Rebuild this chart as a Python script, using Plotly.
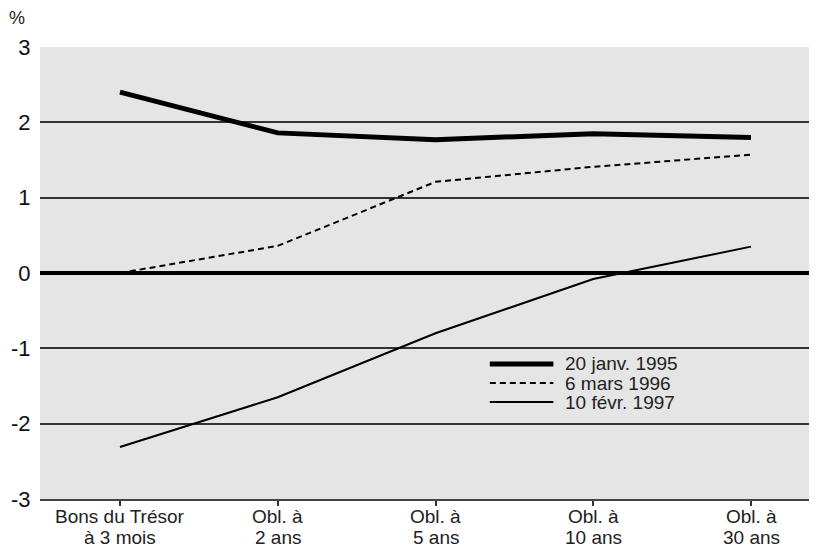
import plotly.graph_objects as go

cat_line1 = ["Bons du Trésor", "Obl. à", "Obl. à", "Obl. à", "Obl. à"]
cat_line2 = ["à 3 mois", "2 ans", "5 ans", "10 ans", "30 ans"]
s1995 = [2.40, 1.86, 1.77, 1.85, 1.80]
s1996 = [0.00, 0.36, 1.21, 1.41, 1.57]
s1997 = [-2.31, -1.65, -0.80, -0.08, 0.35]
names = ["20 janv. 1995", "6 mars 1996", "10 févr. 1997"]
yticks = [-3, -2, -1, 0, 1, 2, 3]
yticktext = ["-3", "-2", "-1", "0", "1", "2", "3"]

x = list(range(len(cat_line1)))
styles = [dict(color="black", width=5, dash="solid"),
          dict(color="black", width=2, dash="6px,4px"),
          dict(color="black", width=2, dash="solid")]

fig = go.Figure()
for name, ys, st in zip(names, [s1995, s1996, s1997], styles):
    fig.add_trace(go.Scatter(x=x, y=ys, mode="lines", name=name,
                             line=st, showlegend=False))

annotations = []
for xi, l1, l2 in zip(x, cat_line1, cat_line2):
    annotations.append(dict(text=l1, xref="x", yref="paper", x=xi, y=0,
                            xanchor="center", yanchor="middle", yshift=-17,
                            showarrow=False, font=dict(size=19, color="#222")))
    annotations.append(dict(text=l2, xref="x", yref="paper", x=xi, y=0,
                            xanchor="center", yanchor="middle", yshift=-38,
                            showarrow=False, font=dict(size=19, color="#222")))

annotations.append(dict(text="%", x=-0.0293, y=1.064, xref="paper", yref="paper",
                        xanchor="center", yanchor="middle",
                        showarrow=False, font=dict(size=18, color="#222")))

fig.update_layout(
    width=817, height=548,
    margin=dict(l=32, r=0, t=39, b=57),
    paper_bgcolor="white", plot_bgcolor="#e5e5e5",
    font=dict(family="Liberation Sans, Arial, sans-serif", color="#222", size=19),
    showlegend=False,
    annotations=annotations,
    xaxis=dict(tickmode="array", tickvals=x, showticklabels=False,
               range=[-0.507, 4.469], showgrid=False, zeroline=False,
               ticks="outside", ticklen=5, tickcolor="#333", tickwidth=1.5,
               showline=True, linecolor="#444", linewidth=2),
    yaxis=dict(range=[-3, 3], tickmode="array", tickvals=yticks, ticktext=yticktext,
               showgrid=True, gridcolor="#333", gridwidth=1.5, zeroline=False,
               ticks="outside", ticklen=4, tickcolor="rgba(0,0,0,0)",
               tickfont=dict(size=22, color="#111"), showline=False),
)

fig.add_hline(y=0, line=dict(color="black", width=4), layer="above")

# manual legend (compact spacing)
leg_y = [0.2987, 0.2566, 0.2146]
for name, st, ly in zip(names, styles, leg_y):
    fig.add_shape(type="line", xref="paper", yref="paper",
                  x0=0.573, x1=0.654, y0=ly, y1=ly,
                  line=dict(color=st["color"], width=st["width"], dash=st["dash"]))
    fig.add_annotation(text=name, xref="paper", yref="paper",
                       x=0.666, y=ly, xanchor="left", yanchor="middle",
                       showarrow=False, font=dict(size=19, color="#222"))

fig.write_html("out.html")
